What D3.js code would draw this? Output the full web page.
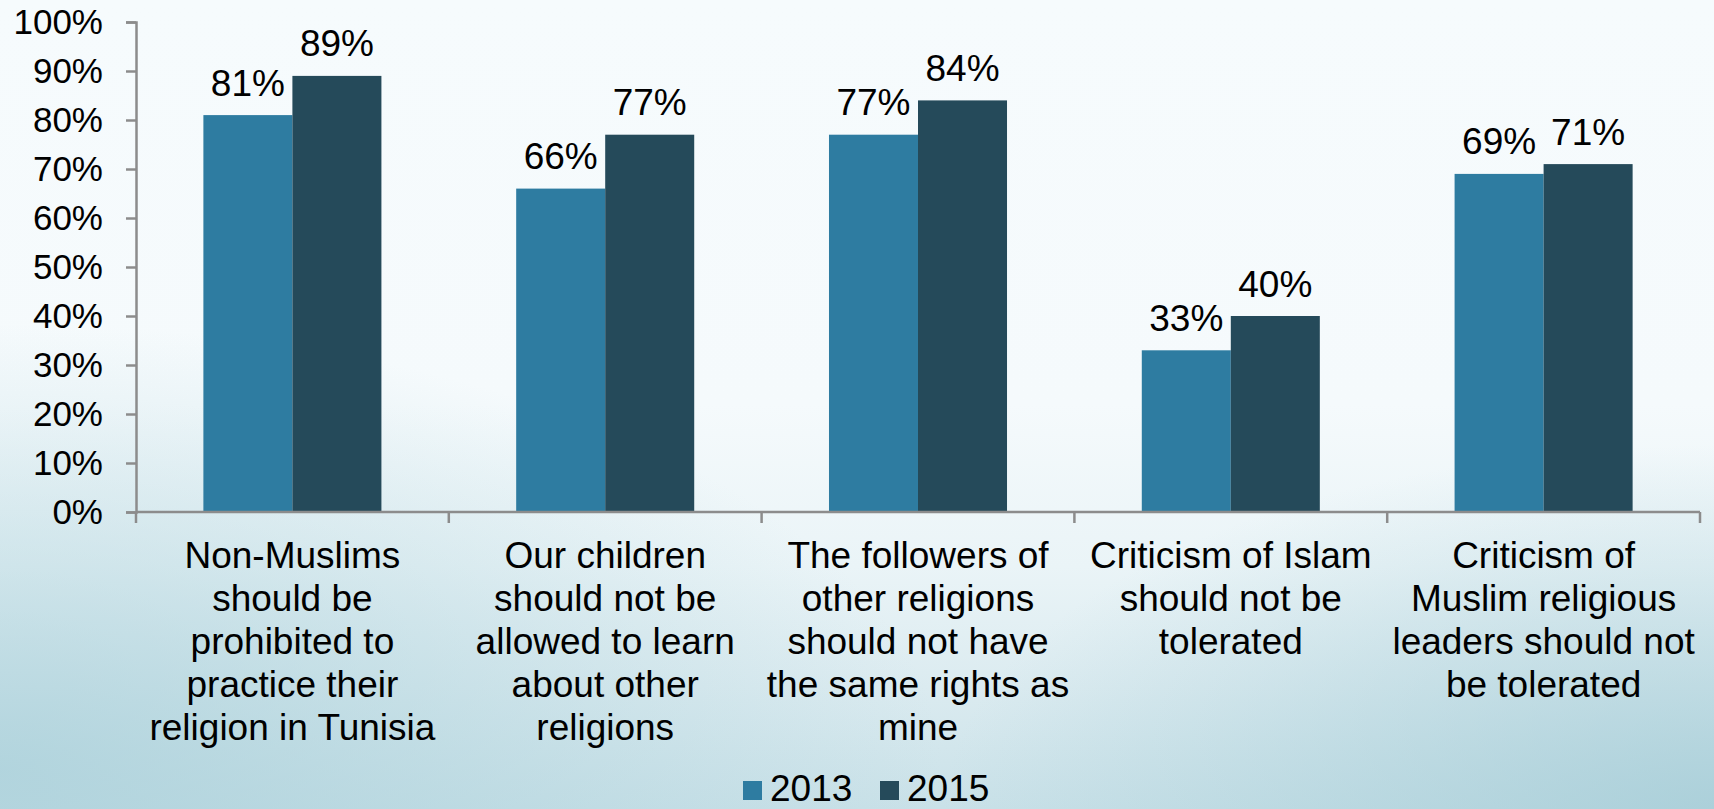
<!DOCTYPE html>
<html>
<head>
<meta charset="utf-8">
<script src="https://d3js.org/d3.v7.min.js"></script>
<style>
  html, body { margin: 0; padding: 0; overflow: hidden; background: #f6fbfd; }
  svg { display: block; font-family: "Liberation Sans", Arial, sans-serif; }
</style>
</head>
<body>
<svg id="chart" width="1714" height="809"></svg>
<script>
// Survey statements (wrapped as they are printed under the axis)
const categories = [
  ["Non-Muslims", "should be", "prohibited to", "practice their", "religion in Tunisia"],
  ["Our children", "should not be", "allowed to learn", "about other", "religions"],
  ["The followers of", "other religions", "should not have", "the same rights as", "mine"],
  ["Criticism of Islam", "should not be", "tolerated"],
  ["Criticism of", "Muslim religious", "leaders should not", "be tolerated"]
];
const seriesNames = ["2013", "2015"];
const values2013 = [81, 66, 77, 33, 69];
const values2015 = [89, 77, 84, 40, 71];
const yTicks = [0, 10, 20, 30, 40, 50, 60, 70, 80, 90, 100];

const W = 1714, H = 809;
const svg = d3.select("#chart");

// ---- background: pale sheet fading into a soft blue at the bottom ----
const defs = svg.append("defs");
const bg = defs.append("linearGradient").attr("id", "bgV")
  .attr("x1", 0).attr("y1", 0).attr("x2", 0).attr("y2", 1);
[[0, "#f6fbfd"], [0.5, "#f5fafc"], [0.7, "#eaf4f7"], [0.85, "#dbebf0"], [1, "#c9e1e8"]]
  .forEach(([o, c]) => bg.append("stop").attr("offset", o).attr("stop-color", c));
const sideL = defs.append("radialGradient").attr("id", "bgL")
  .attr("cx", 0).attr("cy", 0.95).attr("r", 0.55);
sideL.append("stop").attr("offset", 0).attr("stop-color", "#a8cfd9").attr("stop-opacity", 0.75);
sideL.append("stop").attr("offset", 1).attr("stop-color", "#a8cfd9").attr("stop-opacity", 0);
const sideR = defs.append("radialGradient").attr("id", "bgR")
  .attr("cx", 1).attr("cy", 1).attr("r", 0.45);
sideR.append("stop").attr("offset", 0).attr("stop-color", "#9fc9d4").attr("stop-opacity", 0.7);
sideR.append("stop").attr("offset", 1).attr("stop-color", "#9fc9d4").attr("stop-opacity", 0);

svg.append("rect").attr("width", W).attr("height", H).attr("fill", "url(#bgV)");
svg.append("rect").attr("width", W).attr("height", H).attr("fill", "url(#bgL)");
svg.append("rect").attr("width", W).attr("height", H).attr("fill", "url(#bgR)");

// ---- scales ----
const plot = { left: 136, right: 1700, top: 22, bottom: 512 };
const x0 = d3.scaleBand().domain(d3.range(categories.length))
  .range([plot.left, plot.right]).padding(0);
const x1 = d3.scaleBand().domain(seriesNames)
  .range([0, x0.bandwidth()]).paddingOuter(0.757).paddingInner(0);
const y = d3.scaleLinear().domain([0, 100]).range([plot.bottom, plot.top]);
const color = d3.scaleOrdinal().domain(seriesNames).range(["#2e7ca1", "#254a5a"]);

const axisColor = "#8c8c8c";
const fontSize = 37;

// ---- bars ----
const rows = categories.map((c, i) => ({
  i,
  vals: [
    { s: "2013", v: values2013[i] },
    { s: "2015", v: values2015[i] }
  ]
}));

const groups = svg.append("g").selectAll("g").data(rows).join("g")
  .attr("transform", d => `translate(${x0(d.i)},0)`);

groups.selectAll("rect").data(d => d.vals).join("rect")
  .attr("x", d => x1(d.s))
  .attr("y", d => y(d.v))
  .attr("width", x1.bandwidth())
  .attr("height", d => y(0) - y(d.v))
  .attr("fill", d => color(d.s));

// value labels
groups.selectAll("text").data(d => d.vals).join("text")
  .attr("x", d => x1(d.s) + x1.bandwidth() / 2)
  .attr("y", d => y(d.v) - 19.5)
  .attr("text-anchor", "middle")
  .attr("font-size", fontSize)
  .attr("fill", "#000")
  .text(d => d.v + "%");

// ---- y axis ----
const yAxis = svg.append("g").attr("transform", `translate(${plot.left},0)`)
  .call(d3.axisLeft(y).tickValues(yTicks).tickFormat(d => d + "%").tickSize(10).tickPadding(23));
yAxis.select(".domain").attr("stroke", axisColor).attr("stroke-width", 2.5);
yAxis.selectAll(".tick line").attr("stroke", axisColor).attr("stroke-width", 2.5);
yAxis.selectAll(".tick text").attr("font-size", 35).attr("fill", "#000")
  .attr("font-family", '"Liberation Sans", Arial, sans-serif');

// ---- x axis: baseline with ticks at category boundaries ----
const xAxisG = svg.append("g");
xAxisG.append("line")
  .attr("x1", plot.left).attr("x2", plot.right)
  .attr("y1", y(0)).attr("y2", y(0))
  .attr("stroke", axisColor).attr("stroke-width", 2.5);
const bounds = d3.range(categories.length + 1).map(i =>
  i < categories.length ? x0(i) : x0(i - 1) + x0.step());
xAxisG.selectAll("line.tk").data(bounds).join("line").attr("class", "tk")
  .attr("x1", d => d).attr("x2", d => d)
  .attr("y1", y(0)).attr("y2", y(0) + 11)
  .attr("stroke", axisColor).attr("stroke-width", 2.5);

// category labels
const catText = svg.append("g").selectAll("text").data(categories).join("text")
  .attr("text-anchor", "middle")
  .attr("font-size", fontSize)
  .attr("fill", "#000")
  .attr("transform", (d, i) => `translate(${x0(i) + x0.bandwidth() / 2},568)`);
catText.selectAll("tspan").data(d => d).join("tspan")
  .attr("x", 0)
  .attr("y", (d, j) => j * 43)
  .text(d => d);

// ---- legend ----
const legend = svg.append("g");
const legendItems = [{ s: "2013", x: 743 }, { s: "2015", x: 880 }];
legend.selectAll("rect").data(legendItems).join("rect")
  .attr("x", d => d.x).attr("y", 781)
  .attr("width", 19).attr("height", 19)
  .attr("fill", d => color(d.s));
legend.selectAll("text").data(legendItems).join("text")
  .attr("x", d => d.x + 27).attr("y", 801)
  .attr("font-size", fontSize)
  .attr("fill", "#000")
  .text(d => d.s);
</script>
</body>
</html>
